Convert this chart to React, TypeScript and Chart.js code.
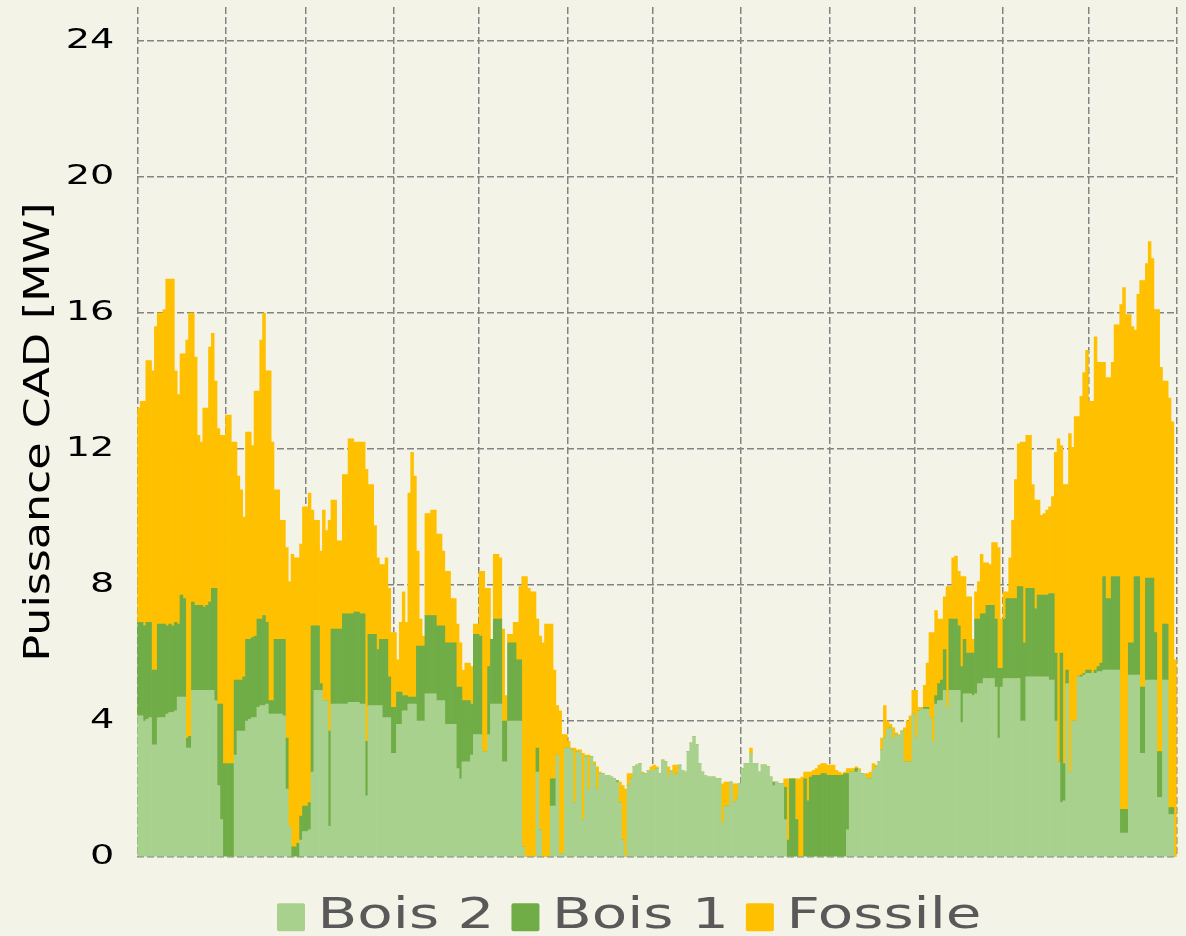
import React, { useEffect, useRef } from "react";
import { Chart, registerables } from "chart.js";

Chart.register(...registerables);

// ---------- data (one value per day of the year, MW) ----------
const seriesNames = ["Bois 2", "Bois 1", "Fossile"];

const bois2 = [
  4.15, 4.15, 4.0, 4.05, 4.1, 3.3, 3.3, 4.1, 4.1, 4.1,
  4.2, 4.25, 4.25, 4.3, 4.7, 4.7, 4.7, 3.2, 3.2, 4.9,
  4.9, 4.9, 4.9, 4.9, 4.9, 4.9, 4.9, 4.6, 2.1, 1.1,
  0, 0, 0, 0, 3.0, 3.7, 3.7, 3.7, 4.0, 4.05,
  4.1, 4.1, 4.4, 4.45, 4.45, 4.5, 4.2, 4.2, 4.2, 4.2,
  4.2, 4.15, 2.0, 0.9, 0, 0, 0, 0.5, 0.75, 0.75,
  0.8, 2.5, 4.9, 4.9, 4.9, 4.6, 4.6, 0.9, 4.5, 4.5,
  4.5, 4.5, 4.5, 4.5, 4.55, 4.55, 4.55, 4.55, 4.5, 4.5,
  1.8, 4.45, 4.45, 4.45, 4.45, 4.45, 4.1, 4.1, 4.1, 3.05,
  3.05, 3.9, 3.9, 4.3, 4.3, 4.5, 4.5, 4.5, 4.0, 4.0,
  4.0, 4.8, 4.8, 4.8, 4.8, 4.6, 4.6, 4.6, 3.9, 3.9,
  3.9, 3.9, 2.6, 2.3, 2.8, 2.8, 2.8, 3.0, 3.6, 3.6,
  3.6, 3.1, 3.1, 3.6, 4.5, 4.5, 4.5, 4.5, 2.8, 2.8,
  4.0, 4.0, 4.0, 4.0, 4.0, 0.3, 0, 0, 0, 0,
  2.5, 0.8, 0, 0, 0, 1.5, 1.5, 3.0, 0.1, 0.1,
  3.2, 3.2, 3.15, 1.6, 3.1, 3.05, 1.1, 2.95, 2.0, 2.95,
  2.7, 2.0, 2.45, 2.45, 2.4, 2.4, 2.35, 2.3, 2.2, 1.6,
  0.5, 0, 2.1, 2.3, 2.65, 2.7, 2.75, 2.45, 2.45, 2.55,
  2.55, 2.55, 2.6, 2.45, 2.85, 2.8, 2.4, 2.55, 2.4, 2.45,
  2.7, 2.55, 2.5, 3.1, 3.35, 3.55, 3.3, 2.75, 2.5, 2.4,
  2.35, 2.35, 2.35, 2.3, 2.3, 1.0, 1.5, 1.5, 2.2, 1.6,
  1.7, 2.15, 2.6, 2.75, 2.75, 3.05, 2.75, 2.75, 2.5, 2.7,
  2.7, 2.65, 2.35, 2.1, 2.2, 2.15, 2.15, 1.1, 0, 0,
  0, 0, 0, 0, 0, 0, 0, 0, 0, 0,
  0, 0, 0, 0, 0, 0, 0, 0, 0, 0.8,
  2.5, 2.5, 2.5, 2.55, 2.45, 2.4, 2.3, 2.3, 2.55, 2.65,
  2.8, 3.15, 3.5, 3.75, 3.8, 3.5, 3.6, 3.55, 3.7, 2.8,
  2.8, 2.8, 4.2, 3.5, 4.3, 4.35, 4.35, 4.35, 4.1, 3.4,
  4.5, 4.6, 4.6, 4.9, 4.4, 4.9, 4.9, 4.9, 4.9, 3.95,
  4.8, 4.8, 4.8, 4.75, 4.8, 5.1, 5.1, 5.25, 5.25, 5.25,
  5.25, 5.0, 3.5, 5.0, 5.25, 5.25, 5.25, 5.25, 5.25, 5.25,
  4.0, 4.0, 5.3, 5.3, 5.3, 5.3, 5.3, 5.3, 5.3, 5.3,
  5.2, 5.2, 4.0, 2.8, 1.6, 1.65, 5.1, 2.5, 4.0, 4.0,
  5.3, 5.3, 5.35, 5.4, 5.4, 5.4, 5.4, 5.45, 5.45, 5.5,
  5.5, 5.5, 5.5, 5.5, 5.5, 0.7, 0.7, 0.7, 5.35, 5.35,
  5.35, 5.35, 3.05, 3.05, 5.2, 5.2, 5.2, 5.2, 1.75, 1.75,
  5.2, 5.2, 1.25, 1.25, 0,
];

const bois1 = [
  2.75, 2.75, 2.8, 2.85, 2.8, 2.2, 2.2, 2.75, 2.75, 2.75,
  2.6, 2.6, 2.55, 2.6, 2.15, 3.0, 2.9, 0.3, 0.35, 2.6,
  2.5, 2.5, 2.5, 2.45, 2.5, 2.6, 3.0, 3.3, 2.4, 3.4,
  2.75, 2.75, 2.75, 2.75, 2.2, 1.5, 1.5, 1.6, 2.4, 2.35,
  2.35, 2.4, 2.6, 2.55, 2.65, 2.4, 0.4, 0.4, 2.2, 2.2,
  2.2, 2.25, 1.5, 0, 0.3, 0.3, 0.4, 0.7, 0.75, 0.75,
  0.8, 4.3, 1.9, 1.9, 0.2, 0, 0, 2.8, 2.2, 2.2,
  2.2, 2.2, 2.65, 2.65, 2.6, 2.6, 2.65, 2.65, 2.65, 2.65,
  1.6, 2.1, 2.1, 2.1, 1.65, 1.95, 2.3, 2.3, 1.2, 1.35,
  1.35, 0.95, 0.95, 0.45, 0.45, 0.2, 0.2, 0.2, 2.2, 2.2,
  2.2, 2.3, 2.3, 2.3, 2.3, 2.2, 2.2, 2.2, 2.4, 2.4,
  2.4, 2.4, 2.4, 2.7, 1.8, 1.8, 1.8, 1.5, 2.95, 2.95,
  2.9, 0, 0, 2.0, 1.9, 2.5, 2.5, 2.5, 1.2, 1.2,
  2.3, 2.3, 2.3, 1.8, 1.8, 0, 0, 0, 0, 0,
  0.7, 0, 0, 0, 0, 0.8, 0.8, 0, 0, 0,
  0, 0, 0, 0, 0, 0, 0, 0, 0, 0,
  0, 0, 0, 0, 0, 0, 0, 0, 0.05, 0,
  0, 0, 0, 0, 0, 0, 0, 0, 0, 0,
  0, 0, 0, 0, 0, 0, 0, 0, 0, 0,
  0, 0, 0, 0, 0, 0, 0, 0, 0, 0,
  0, 0, 0, 0, 0, 0, 0, 0, 0, 0,
  0, 0, 0, 0, 0, 0, 0, 0, 0, 0,
  0, 0, 0, 0.1, 0, 0, 0, 0.95, 0.5, 2.3,
  2.3, 1.1, 0, 0, 2.3, 1.65, 2.35, 2.4, 2.4, 2.4,
  2.45, 2.45, 2.4, 2.4, 2.4, 2.4, 2.4, 2.4, 2.45, 1.65,
  0, 0, 0.1, 0, 0, 0, 0, 0, 0, 0,
  0, 0, 0, 0, 0, 0, 0, 0, 0, 0,
  0, 0, 0, 0, 0, 0, 0.05, 0.05, 0, 0,
  0.25, 0.5, 0.6, 1.2, 0, 2.1, 2.1, 2.1, 1.9, 1.65,
  1.6, 1.2, 1.2, 1.25, 2.2, 1.9, 2.05, 1.9, 2.15, 2.15,
  2.15, 2.0, 2.05, 0.55, 1.75, 2.35, 2.35, 2.35, 2.35, 2.7,
  3.95, 2.3, 2.6, 2.6, 2.6, 2.0, 2.4, 2.4, 2.4, 2.4,
  2.55, 2.55, 2.0, 0, 4.4, 1.1, 0.4, 0, 0, 0,
  0, 0.05, 0.05, 0.1, 0.1, 0, 0.1, 0.15, 0.25, 2.75,
  2.1, 2.1, 2.75, 2.75, 2.75, 0.7, 0.7, 0.7, 0.95, 0.95,
  2.9, 2.9, 1.95, 1.95, 3.0, 3.0, 3.0, 1.4, 1.35, 1.35,
  1.65, 1.65, 0.2, 0.2, 0,
];

const fossile = [
  6.3, 6.5, 6.6, 7.7, 7.7, 8.8, 10.1, 9.15, 9.15, 9.25,
  10.2, 10.15, 10.2, 7.4, 6.75, 7.1, 7.2, 11.7, 12.45, 8.5,
  7.3, 5.0, 4.8, 5.85, 5.8, 7.5, 7.5, 6.1, 8.1, 7.9,
  9.65, 10.25, 10.25, 9.45, 7.0, 6.0, 5.6, 4.7, 6.1, 6.1,
  5.65, 7.2, 6.7, 8.2, 8.9, 7.4, 9.7, 7.6, 4.4, 4.4,
  3.5, 3.5, 5.6, 7.2, 8.6, 8.5, 8.4, 8.0, 8.8, 8.8,
  9.1, 3.4, 3.1, 3.1, 3.9, 5.6, 5.0, 6.2, 3.8, 3.8,
  2.6, 2.6, 4.1, 4.1, 5.15, 5.15, 5.0, 5.0, 5.05, 5.05,
  8.0, 4.4, 4.4, 3.2, 2.7, 2.2, 2.2, 2.4, 2.6, 2.2,
  2.2, 0.95, 2.05, 3.05, 2.15, 6.0, 7.2, 6.5, 2.8, 0.8,
  0.3, 3.0, 3.0, 3.1, 3.1, 2.7, 2.7, 2.2, 2.1, 2.1,
  1.3, 1.3, 1.85, 1.3, 0.9, 1.1, 1.1, 1.1, 0.3, 0.3,
  1.9, 5.3, 4.8, 2.3, 0, 1.9, 1.9, 1.8, 2.7, 0.75,
  0.25, 0.25, 0.6, 1.1, 2.15, 7.95, 8.25, 7.9, 7.8, 7.8,
  3.8, 5.7, 6.3, 6.85, 6.85, 4.55, 3.2, 1.45, 4.2, 3.5,
  0.4, 0.2, 0.05, 1.6, 0.05, 0.1, 1.95, 0.05, 1.0, 0,
  0.1, 0.65, 0.05, 0, 0, 0, 0, 0, 0, 0.6,
  1.6, 2.0, 0.35, 0.15, 0, 0, 0, 0.05, 0, 0,
  0.1, 0.15, 0.05, 0, 0, 0, 0.25, 0, 0.3, 0.25,
  0, 0, 0, 0, 0, 0, 0, 0, 0, 0,
  0, 0, 0, 0, 0, 1.15, 0.7, 0.7, 0, 0.55,
  0.45, 0, 0, 0, 0, 0.15, 0, 0, 0, 0,
  0, 0, 0, 0, 0, 0, 0, 0.25, 1.8, 0,
  0, 1.2, 2.3, 2.35, 0.2, 0.85, 0.15, 0.15, 0.2, 0.3,
  0.3, 0.3, 0.3, 0.3, 0.3, 0.15, 0.1, 0.05, 0.05, 0.15,
  0.1, 0.1, 0.05, 0.05, 0, 0.05, 0.15, 0.2, 0.2, 0.05,
  0, 0.35, 0.95, 0.25, 0.1, 0.3, 0.05, 0.05, 0, 1.0,
  1.2, 1.35, 0.7, 1.4, 0.1, 0.05, 0.65, 1.3, 2.5, 3.2,
  2.5, 1.9, 1.8, 1.55, 3.55, 0.95, 1.8, 1.85, 1.6, 2.65,
  1.85, 1.65, 1.65, 0.4, 0.8, 1.1, 1.75, 1.5, 1.25, 1.2,
  1.85, 2.25, 3.55, 1.45, 0.8, 0.2, 1.2, 2.3, 3.5, 4.2,
  4.25, 5.9, 4.5, 4.5, 3.05, 3.2, 2.8, 2.35, 2.4, 2.5,
  2.55, 2.85, 5.9, 9.5, 6.1, 8.2, 5.45, 9.95, 8.05, 8.95,
  7.65, 8.2, 8.85, 9.4, 7.9, 8.0, 9.8, 8.95, 8.85, 6.3,
  6.5, 6.5, 6.3, 7.4, 7.4, 14.85, 15.35, 14.55, 9.65, 9.3,
  7.25, 8.3, 11.95, 11.95, 9.25, 9.9, 9.4, 9.5, 13.0, 11.3,
  7.15, 7.15, 12.05, 11.35, 5.8,
];

// month boundaries (day of year) used for the vertical grid
const monthStartDays = [0, 31, 59, 90, 120, 151, 181, 212, 243, 273, 304, 334, 365];
const yTicks = [0, 4, 8, 12, 16, 20, 24];
const yMin = 0;
const yMax = 25;
const dayCount = 365;
const yTitle = "Puissance CAD [MW]";

// ---------- styles ----------
const COLORS = ["#A9D18E", "#70AD47", "#FFC000"];
const BG = "#F3F4E7";
const GRID = "#838383";
const FAMILY = "'DejaVu Sans', sans-serif";
const TICK_SIZE = 26;
const TITLE_SIZE = 36;
const LEGEND_SIZE = 25;
// [horizontal, vertical] text scale per font size, to mimic the wide typeface of the reference
const STRETCH: Record<number, [number, number]> = {
  26: [1.47, 1],
  36: [1.23, 1],
  25: [2.32, 1.72],
};
const LEGEND_START_X = 277;

function stretchOf(font: string): [number, number] {
  const m = /(\d+(?:\.\d+)?)px/.exec(font);
  if (!m) return [1, 1];
  const s = STRETCH[Math.round(parseFloat(m[1]))];
  return s === undefined ? [1, 1] : s;
}

function patchContext(ctx: any) {
  if (ctx.__wideText) return;
  ctx.__wideText = true;
  const rawFill = ctx.fillText;
  const rawMeasure = ctx.measureText;
  ctx.fillText = function (text: string, x: number, y: number, maxWidth?: number) {
    const [sx, sy] = stretchOf(this.font);
    if (sx === 1 && sy === 1) {
      if (maxWidth === undefined) return rawFill.call(this, text, x, y);
      return rawFill.call(this, text, x, y, maxWidth);
    }
    this.save();
    this.translate(x, y);
    this.scale(sx, sy);
    rawFill.call(this, text, 0, 0);
    this.restore();
  };
  ctx.measureText = function (text: string) {
    const m = rawMeasure.call(this, text);
    const [sx, sy] = stretchOf(this.font);
    if (sx === 1 && sy === 1) return m;
    return {
      width: m.width * sx,
      actualBoundingBoxLeft: m.actualBoundingBoxLeft * sx,
      actualBoundingBoxRight: m.actualBoundingBoxRight * sx,
      actualBoundingBoxAscent: m.actualBoundingBoxAscent * sy,
      actualBoundingBoxDescent: m.actualBoundingBoxDescent * sy,
      fontBoundingBoxAscent: m.fontBoundingBoxAscent * sy,
      fontBoundingBoxDescent: m.fontBoundingBoxDescent * sy,
    };
  };
}

const legendShift = {
  id: "legendShift",
  afterLayout(chart: any) {
    const lg = chart.legend;
    if (!lg || !lg.lineWidths) return;
    const p = lg.options.labels.padding;
    const x0 = (lg.left + p + lg.right - lg.lineWidths[0]) / 2;
    const dx = LEGEND_START_X - x0;
    lg.left += dx;
    lg.right += dx;
  },
};

export default function App() {
  const ref = useRef<HTMLCanvasElement>(null);

  useEffect(() => {
    const canvas = ref.current;
    if (!canvas) return;
    const ctx = canvas.getContext("2d");
    patchContext(ctx);

    const series = [bois2, bois1, fossile];
    const datasets = series.map((values, k) => ({
      label: seriesNames[k],
      data: values.map((v, i) => ({ x: i + 0.5, y: v })),
      backgroundColor: COLORS[k],
      borderWidth: 0,
      borderRadius: 0,
      categoryPercentage: 1,
      barPercentage: 1,
    }));

    const chart = new Chart(ctx as any, {
      type: "bar",
      data: { datasets },
      plugins: [legendShift],
      options: {
        responsive: false,
        animation: false,
        events: [],
        layout: { padding: { left: 0, right: 9.3, top: 7, bottom: -5.3 } },
        plugins: {
          tooltip: { enabled: false },
          title: { display: false },
          legend: {
            display: true,
            position: "bottom",
            labels: {
              boxWidth: 28,
              boxHeight: 28,
              padding: 17,
              color: "#595959",
              useBorderRadius: true,
              borderRadius: 2,
              font: { family: FAMILY, size: LEGEND_SIZE },
            },
          },
        },
        scales: {
          x: {
            type: "linear",
            stacked: true,
            min: 0,
            max: dayCount,
            offset: false,
            grid: { offset: false, color: GRID, lineWidth: 1.5, drawTicks: false },
            border: { display: false, dash: [7, 3] },
            ticks: { display: false },
            afterBuildTicks: (scale: any) => {
              scale.ticks = monthStartDays.map((v) => ({ value: v }));
            },
            afterFit: (scale: any) => {
              scale.height = 29.3;
              scale.paddingLeft = 0;
              scale.paddingRight = 0;
            },
          },
          y: {
            type: "linear",
            stacked: true,
            min: yMin,
            max: yMax,
            grid: { color: GRID, lineWidth: 1.5, drawTicks: false },
            border: { display: false, dash: [7, 3] },
            ticks: {
              color: "#000000",
              padding: 23,
              font: { family: FAMILY, size: TICK_SIZE },
            },
            title: {
              display: true,
              text: yTitle,
              color: "#000000",
              font: { family: FAMILY, size: TITLE_SIZE },
              padding: { top: 18, bottom: 0 },
            },
            afterBuildTicks: (scale: any) => {
              scale.ticks = yTicks.map((v) => ({ value: v }));
            },
            afterFit: (scale: any) => {
              scale.width = 137.3;
              scale.paddingTop = 0;
              scale.paddingBottom = 0;
            },
          },
        },
      } as any,
    });

    return () => chart.destroy();
  }, []);

  return (
    <div
      style={{
        position: "absolute",
        left: 0,
        top: 0,
        width: 1186,
        height: 936,
        background: BG,
        overflow: "hidden",
      }}
    >
      <canvas ref={ref} width={1186} height={936} style={{ display: "block", width: 1186, height: 936 }} />
    </div>
  );
}
